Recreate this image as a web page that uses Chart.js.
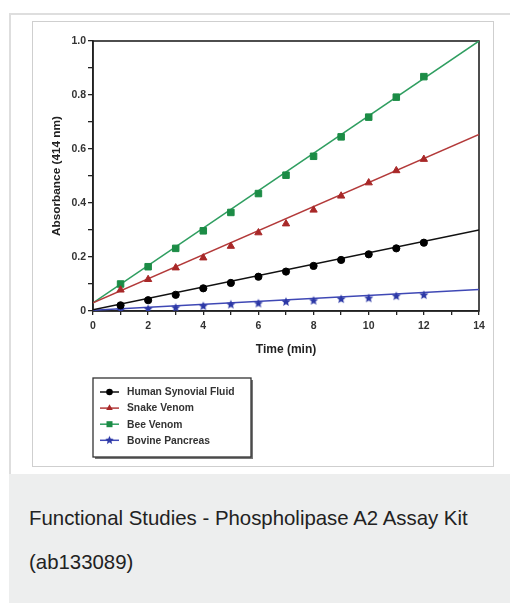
<!DOCTYPE html>
<html>
<head>
<meta charset="utf-8">
<script src="https://cdn.jsdelivr.net/npm/chart.js@4"></script>
<style>
  html, body { margin: 0; padding: 0; background: #fff; width: 510px; height: 605px; overflow: hidden; }
  #outer { position: absolute; left: 9px; top: 13px; width: 510px; height: 461px; border-left: 2px solid #dedede; border-top: 2px solid #dedede; box-sizing: border-box; }
  #frame { position: absolute; left: 32px; top: 21px; width: 462px; height: 446px; border: 1px solid #cfcfcf; box-sizing: border-box; }
  #wrap { position: absolute; left: 33px; top: 22px; width: 459px; height: 444px; }
  #caption { position: absolute; left: 9px; top: 474px; width: 510px; height: 129px; background: #edeeee; box-sizing: border-box;
    padding: 0 0 0 20px; font-family: "Liberation Sans", Arial, sans-serif; font-size: 20.4px; line-height: 44px; color: #222; padding-top: 22px; }
</style>
</head>
<body>
<div id="outer"></div>
<div id="frame"></div>
<div id="wrap"><canvas id="c" width="459" height="444"></canvas></div>
<div id="caption">Functional Studies - Phospholipase A2 Assay Kit<br>(ab133089)</div>
<script>
// ---- data ----
const timeMin = [1, 2, 3, 4, 5, 6, 7, 8, 9, 10, 11, 12];
const seriesNames = ["Human Synovial Fluid", "Snake Venom", "Bee Venom", "Bovine Pancreas"];
const synovial = [0.021, 0.040, 0.060, 0.084, 0.104, 0.127, 0.146, 0.167, 0.189, 0.210, 0.232, 0.253];
const snake    = [0.078, 0.117, 0.160, 0.197, 0.240, 0.290, 0.323, 0.374, 0.426, 0.475, 0.520, 0.562];
const bee      = [0.100, 0.164, 0.232, 0.297, 0.365, 0.435, 0.503, 0.573, 0.645, 0.718, 0.792, 0.868];
const bovine   = [0.004, 0.007, 0.012, 0.018, 0.024, 0.028, 0.034, 0.038, 0.044, 0.047, 0.055, 0.059];
// linear fit lines (endpoints)
const fitTime     = [0, 14];
const synovialFit = [0.005, 0.300];
const snakeFit    = [0.030, 0.654];
const beeFit      = [0.030, 1.000];
const bovineFit   = [0.003, 0.080];
const xTickLabels = ["0", "2", "4", "6", "8", "10", "12", "14"];
const yTickLabels = ["0", "0.2", "0.4", "0.6", "0.8", "1.0"];

// ---- styles ----
const lineColors = ["#111111", "#b33a3a", "#2f9e60", "#3f48b5"];
const markColors = ["#000000", "#a82828", "#1c8c46", "#2c38a6"];

function makeStar(color, R) {
  const c = document.createElement('canvas');
  const s = Math.ceil(R * 2 + 2);
  c.width = s; c.height = s;
  const g = c.getContext('2d');
  g.fillStyle = color;
  g.beginPath();
  for (let i = 0; i < 10; i++) {
    const r = i % 2 === 0 ? R : R * 0.45;
    const a = -Math.PI / 2 + i * Math.PI / 5;
    const px = s / 2 + r * Math.cos(a), py = s / 2 + r * Math.sin(a);
    if (i === 0) g.moveTo(px, py); else g.lineTo(px, py);
  }
  g.closePath();
  g.fill();
  return c;
}
const starImg = makeStar(markColors[3], 4.8);
const starImgLegend = makeStar(markColors[3], 4.5);

const pointStyles = ['circle', 'triangle', 'rect', starImg];
const pointRadii = [3.6, 4.2, 4.6, 4];

const pts = (xs, ys) => xs.map((x, i) => ({ x: x, y: ys[i] }));
const markerSeries = [synovial, snake, bee, bovine];
const fitSeries = [synovialFit, snakeFit, beeFit, bovineFit];

const datasets = [];
fitSeries.forEach((f, i) => {
  datasets.push({
    label: seriesNames[i] + ' fit', data: pts(fitTime, f), showLine: true,
    borderColor: lineColors[i], borderWidth: 1.5, pointRadius: 0, order: 2, fill: false
  });
});
markerSeries.forEach((s, i) => {
  datasets.push({
    label: seriesNames[i], data: pts(timeMin, s), showLine: false,
    pointStyle: pointStyles[i], pointRadius: pointRadii[i],
    backgroundColor: markColors[i], borderColor: markColors[i], borderWidth: 1, order: 1
  });
});

const framePlugin = {
  id: 'frame',
  beforeDatasetsDraw(chart) {
    const { ctx, chartArea: a } = chart;
    ctx.save();
    ctx.strokeStyle = '#222';
    ctx.lineWidth = 1.6;
    ctx.strokeRect(a.left, a.top, a.right - a.left, a.bottom - a.top);
    ctx.restore();
  }
};

const legendPlugin = {
  id: 'boxLegend',
  afterDraw(chart) {
    const ctx = chart.ctx;
    const bx = 60, by = 356, bw = 158, bh = 79;
    ctx.save();
    ctx.fillStyle = '#777';
    ctx.fillRect(bx + 2, by + 2, bw, bh);
    ctx.fillStyle = '#fff';
    ctx.fillRect(bx, by, bw, bh);
    ctx.strokeStyle = '#333';
    ctx.lineWidth = 1.3;
    ctx.strokeRect(bx, by, bw, bh);
    ctx.font = 'bold 10.3px "Liberation Sans", Arial, sans-serif';
    ctx.textBaseline = 'middle';
    seriesNames.forEach((name, i) => {
      const y = 370 + i * 16.1;
      ctx.strokeStyle = lineColors[i];
      ctx.lineWidth = 1.5;
      ctx.beginPath(); ctx.moveTo(67, y); ctx.lineTo(86, y); ctx.stroke();
      const cx = 76.5;
      ctx.fillStyle = markColors[i];
      if (i === 0) { ctx.beginPath(); ctx.arc(cx, y, 3.3, 0, Math.PI * 2); ctx.fill(); }
      else if (i === 1) {
        const r = 3.8; ctx.beginPath();
        ctx.moveTo(cx, y - r); ctx.lineTo(cx + r * 0.866, y + r * 0.5); ctx.lineTo(cx - r * 0.866, y + r * 0.5);
        ctx.closePath(); ctx.fill();
      } else if (i === 2) { ctx.fillRect(cx - 3, y - 3, 6, 6); }
      else { ctx.drawImage(starImgLegend, cx - starImgLegend.width / 2, y - starImgLegend.height / 2); }
      ctx.fillStyle = '#333';
      ctx.fillText(name, 94, y + 0.5);
    });
    ctx.restore();
  }
};

const tickFont = { family: '"Liberation Sans", Arial, sans-serif', size: 10.5, weight: 'bold' };

new Chart(document.getElementById('c'), {
  type: 'scatter',
  data: { datasets: datasets },
  options: {
    responsive: false,
    animation: false,
    devicePixelRatio: 1,
    layout: { padding: { left: 0, top: 19, right: 13, bottom: 0 } },
    plugins: { legend: { display: false }, tooltip: { enabled: false } },
    scales: {
      x: {
        type: 'linear', min: 0, max: 14,
        afterFit(scale) { scale.height = 155; },
        ticks: {
          stepSize: 1, autoSkip: false, maxRotation: 0, padding: 5, color: '#333', font: tickFont,
          callback(v) { const s = String(Math.round(v)); return xTickLabels.includes(s) && Math.round(v) % 2 === 0 ? s : ''; }
        },
        grid: { display: true, drawOnChartArea: false, drawTicks: true, tickLength: 4, color: '#222', lineWidth: 1.3 },
        border: { display: true, color: '#222', width: 1.6 },
        title: {
          display: true, text: 'Time (min)', color: '#222',
          font: { family: '"Liberation Sans", Arial, sans-serif', size: 12, weight: 'bold' },
          padding: { top: 0, bottom: 109 }
        }
      },
      y: {
        type: 'linear', min: 0, max: 1,
        afterFit(scale) { scale.width = 60; },
        ticks: {
          stepSize: 0.1, autoSkip: false, padding: 2, color: '#333', font: tickFont,
          callback(v) {
            const k = Math.round(v * 10);
            if (k % 2 !== 0) return '';
            return yTickLabels[k / 2];
          }
        },
        grid: { display: true, drawOnChartArea: false, drawTicks: true, tickLength: 5, color: '#222', lineWidth: 1.3 },
        border: { display: true, color: '#222', width: 1.6 },
        title: {
          display: true, text: 'Absorbance (414 nm)', color: '#222',
          font: { family: '"Liberation Sans", Arial, sans-serif', size: 11.8, weight: 'bold' },
          padding: { top: 17, bottom: 0 }
        }
      }
    }
  },
  plugins: [framePlugin, legendPlugin]
});
</script>
</body>
</html>
